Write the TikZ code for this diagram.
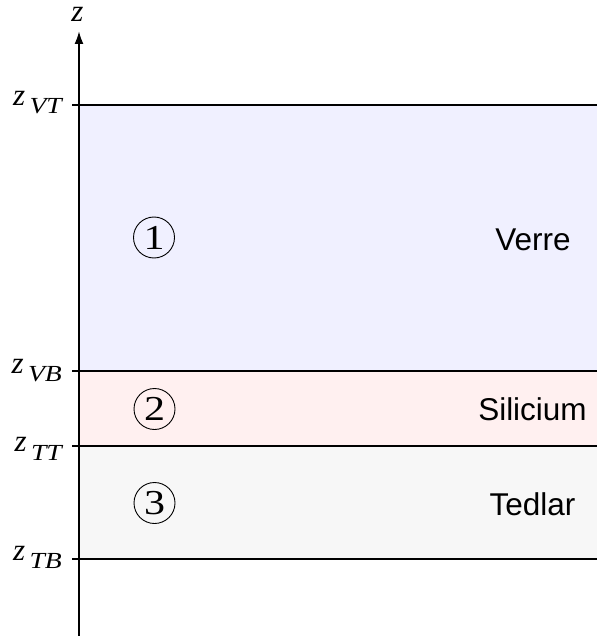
\documentclass[tikz,border=0pt]{standalone}
\usepackage{fontspec}
\setmainfont{Liberation Serif}
\newfontfamily\wideserif[FakeStretch=1.2]{Liberation Serif}
\newfontfamily\labsans{Liberation Sans}
\usetikzlibrary{arrows.meta}
\begin{document}
\begin{tikzpicture}[x=1pt,y=-1pt,
  layerline/.style={line width=2pt},
  numcirc/.style={circle,draw,line width=0.9pt,minimum size=41pt,inner sep=0pt,font=\wideserif\fontsize{35}{35}\selectfont},
  mat/.style={font=\labsans\fontsize{31.5}{32}\selectfont,anchor=base},
  zlab/.style={anchor=base east,inner sep=0pt}]
\useasboundingbox (0,0) rectangle (597,636);
\fill[blue!6] (79,105) rectangle (597,371);
\fill[red!6] (79,371) rectangle (597,446);
\fill[gray!6] (79,446) rectangle (597,559);
\coordinate (axb) at (79,636);
\coordinate (axt) at (79,31);
\draw[line width=2pt,-{Latex[length=13pt,width=9pt]}] (axb) -- (axt);
\node[font=\fontsize{31}{31}\selectfont\itshape,anchor=base,inner sep=0pt,text height=1ex,text depth=0pt] (zax) at (77.5,22) {z};
\foreach \y/\nm/\s/\bs in {105/vt/VT/105.7, 371/vb/VB/373.3, 446/tt/TT/451.7, 559/tb/TB/560.5}{
  \coordinate (l\nm) at (72,\y);
  \coordinate (r\nm) at (597,\y);
  \draw[layerline] (l\nm) -- (r\nm);
  \node[zlab] (z\nm) at (62,\bs) {\fontsize{31}{31}\selectfont\itshape z\kern4.5pt\raisebox{-8.3pt}{\wideserif\fontsize{23}{23}\selectfont\itshape \s}};
}
\node[numcirc] (c1) at (154,237.5) {1};
\node[numcirc] (c2) at (154.5,409) {2};
\node[numcirc] (c3) at (154.5,503) {3};
\node[mat] (verre) at (533,250) {Verre};
\node[mat] (sil) at (532.5,420) {Silicium};
\node[mat] (ted) at (532.5,515) {Tedlar};
\end{tikzpicture}
\end{document}
